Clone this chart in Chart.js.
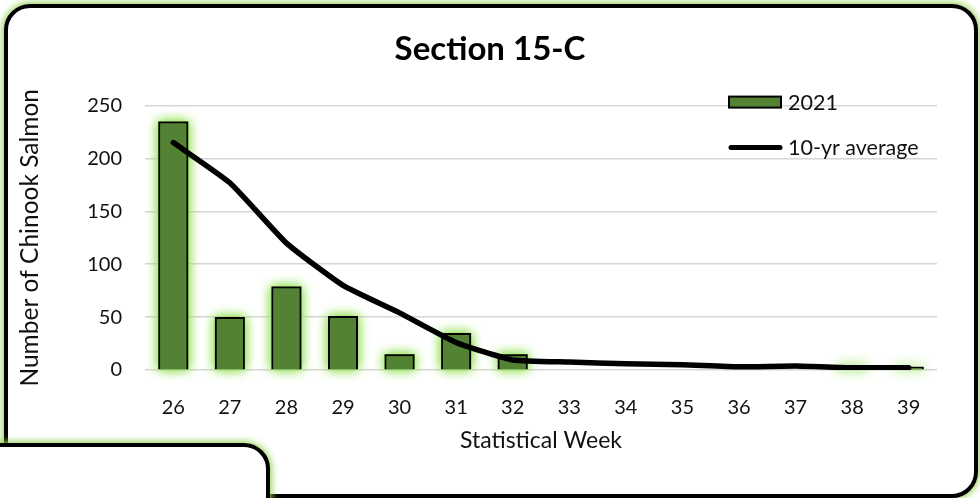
<!DOCTYPE html>
<html>
<head>
<meta charset="utf-8">
<script src="https://cdn.jsdelivr.net/npm/chart.js@4.4.1/dist/chart.umd.min.js"></script>
<style>
body { margin: 0; background: #fff; }
#wrap { position: relative; width: 980px; height: 498px; overflow: hidden; }
#wrap canvas { position: absolute; left: 0; top: 0; }
#frame { position: absolute; left: 4px; top: 4px; width: 974px; height: 494px; box-sizing: border-box;
  border: 4px solid #000; border-radius: 26px; box-shadow: 0 0 6px 2px rgba(146,208,80,0.9); pointer-events: none; }
#corner { position: absolute; left: -30px; top: 443px; width: 300px; height: 100px; box-sizing: border-box;
  border: 4px solid #000; border-radius: 26px; background: #fff; box-shadow: 0 0 6px 2px rgba(146,208,80,0.9); }
</style>
</head>
<body>
<div id="wrap">
  <canvas id="chart" width="980" height="498"></canvas>
  <div id="frame"></div>
  <div id="corner"></div>
</div>
<script>
var weeks = ['26', '27', '28', '29', '30', '31', '32', '33', '34', '35', '36', '37', '38', '39'];
var catch2021 = [235, 50, 79, 51, 15, 35, 15, 0, 0, 0, 0, 0, 4, 3];
var avg10 = [215, 177, 120, 80, 54, 26, 9.5, 7.5, 6, 5, 3, 3.8, 2.2, 2.2];

var barGreen = '#548235';
var glowGreen = 'rgba(150, 225, 90, 1)';

Chart.defaults.font.family = 'Lato';
Chart.defaults.color = '#111';

// soft green glow behind the bars (the bar element clips its own shadow, so paint it first)
var glow = {
    id: 'glow',
    beforeDatasetDraw: function (chart, args) {
        if (args.meta.type !== 'bar') return;
        var c = chart.ctx;
        c.save();
        c.shadowColor = glowGreen;
        c.shadowBlur = 12;
        c.fillStyle = barGreen;
        args.meta.data.forEach(function (el) {
            var h = Math.abs(el.base - el.y);
            if (h < 0.5) return;
            c.fillRect(el.x - el.width / 2, Math.min(el.y, el.base), el.width, h);
            c.fillRect(el.x - el.width / 2, Math.min(el.y, el.base), el.width, h);
        });
        c.restore();
    }
};

// legend drawn inside the plot, top right
var insideLegend = {
    id: 'insideLegend',
    afterDraw: function (chart) {
        var ctx = chart.ctx;
        var a = chart.chartArea;
        var x = a.right - 208;
        var bar = chart.data.datasets[1];
        var line = chart.data.datasets[0];
        ctx.save();
        ctx.fillStyle = bar.backgroundColor;
        ctx.strokeStyle = '#000';
        ctx.lineWidth = 2;
        ctx.fillRect(x, a.top - 9, 52, 11);
        ctx.strokeRect(x, a.top - 9, 52, 11);
        ctx.beginPath();
        ctx.lineCap = 'round';
        ctx.lineWidth = 5;
        ctx.moveTo(x + 2, a.top + 42);
        ctx.lineTo(x + 51, a.top + 42);
        ctx.stroke();
        ctx.fillStyle = '#111';
        ctx.font = '21.5px Lato';
        ctx.textBaseline = 'middle';
        ctx.fillText(bar.label, x + 59, a.top - 3);
        ctx.fillText(line.label, x + 59, a.top + 42);
        ctx.restore();
    }
};

var ctx = document.getElementById('chart');

var grafico = new Chart(ctx, {
    data: {
        labels: weeks,
        datasets: [{
            type: 'line',
            label: '10-yr average',
            data: avg10,
            borderColor: '#000',
            borderWidth: 5.5,
            borderCapStyle: 'round',
            borderJoinStyle: 'round',
            pointRadius: 0,
            tension: 0.15,
            order: 0
        },
        {
            type: 'bar',
            label: '2021',
            data: catch2021,
            backgroundColor: barGreen,
            borderColor: '#000',
            borderWidth: 2,
            barPercentage: 0.53,
            categoryPercentage: 1,
            order: 1
        }]
    },
    options: {
        responsive: false,
        animation: false,
        layout: { padding: 0 },
        plugins: {
            legend: { display: false },
            tooltip: { enabled: false },
            title: {
                display: true,
                text: 'Section 15-C',
                color: '#000',
                font: { size: 33, weight: 'bold' },
                padding: { top: 30, bottom: 36 }
            }
        },
        scales: {
            x: {
                grid: { display: false },
                border: { display: false },
                ticks: { font: { size: 20 }, padding: 18 },
                title: {
                    display: true,
                    text: 'Statistical Week',
                    font: { size: 23 },
                    padding: { top: 0, bottom: 44 }
                },
                afterFit: function (scale) { scale.height = 128; }
            },
            y: {
                min: 0,
                max: 250,
                ticks: { stepSize: 50, font: { size: 20 }, padding: 23 },
                grid: { color: '#d6d6d6', lineWidth: 1.5, drawTicks: false },
                border: { display: false },
                title: {
                    display: true,
                    text: 'Number of Chinook Salmon',
                    font: { size: 24.5 },
                    padding: { top: 15, bottom: 0 }
                },
                afterFit: function (scale) { scale.width = 145; }
            },
            // empty right-hand strip so the title centres on the whole frame
            y2: {
                position: 'right',
                grid: { display: false },
                border: { display: false },
                ticks: { display: false },
                afterFit: function (scale) { scale.width = 43; }
            }
        }
    },
    plugins: [glow, insideLegend]
});
</script>
</body>
</html>
